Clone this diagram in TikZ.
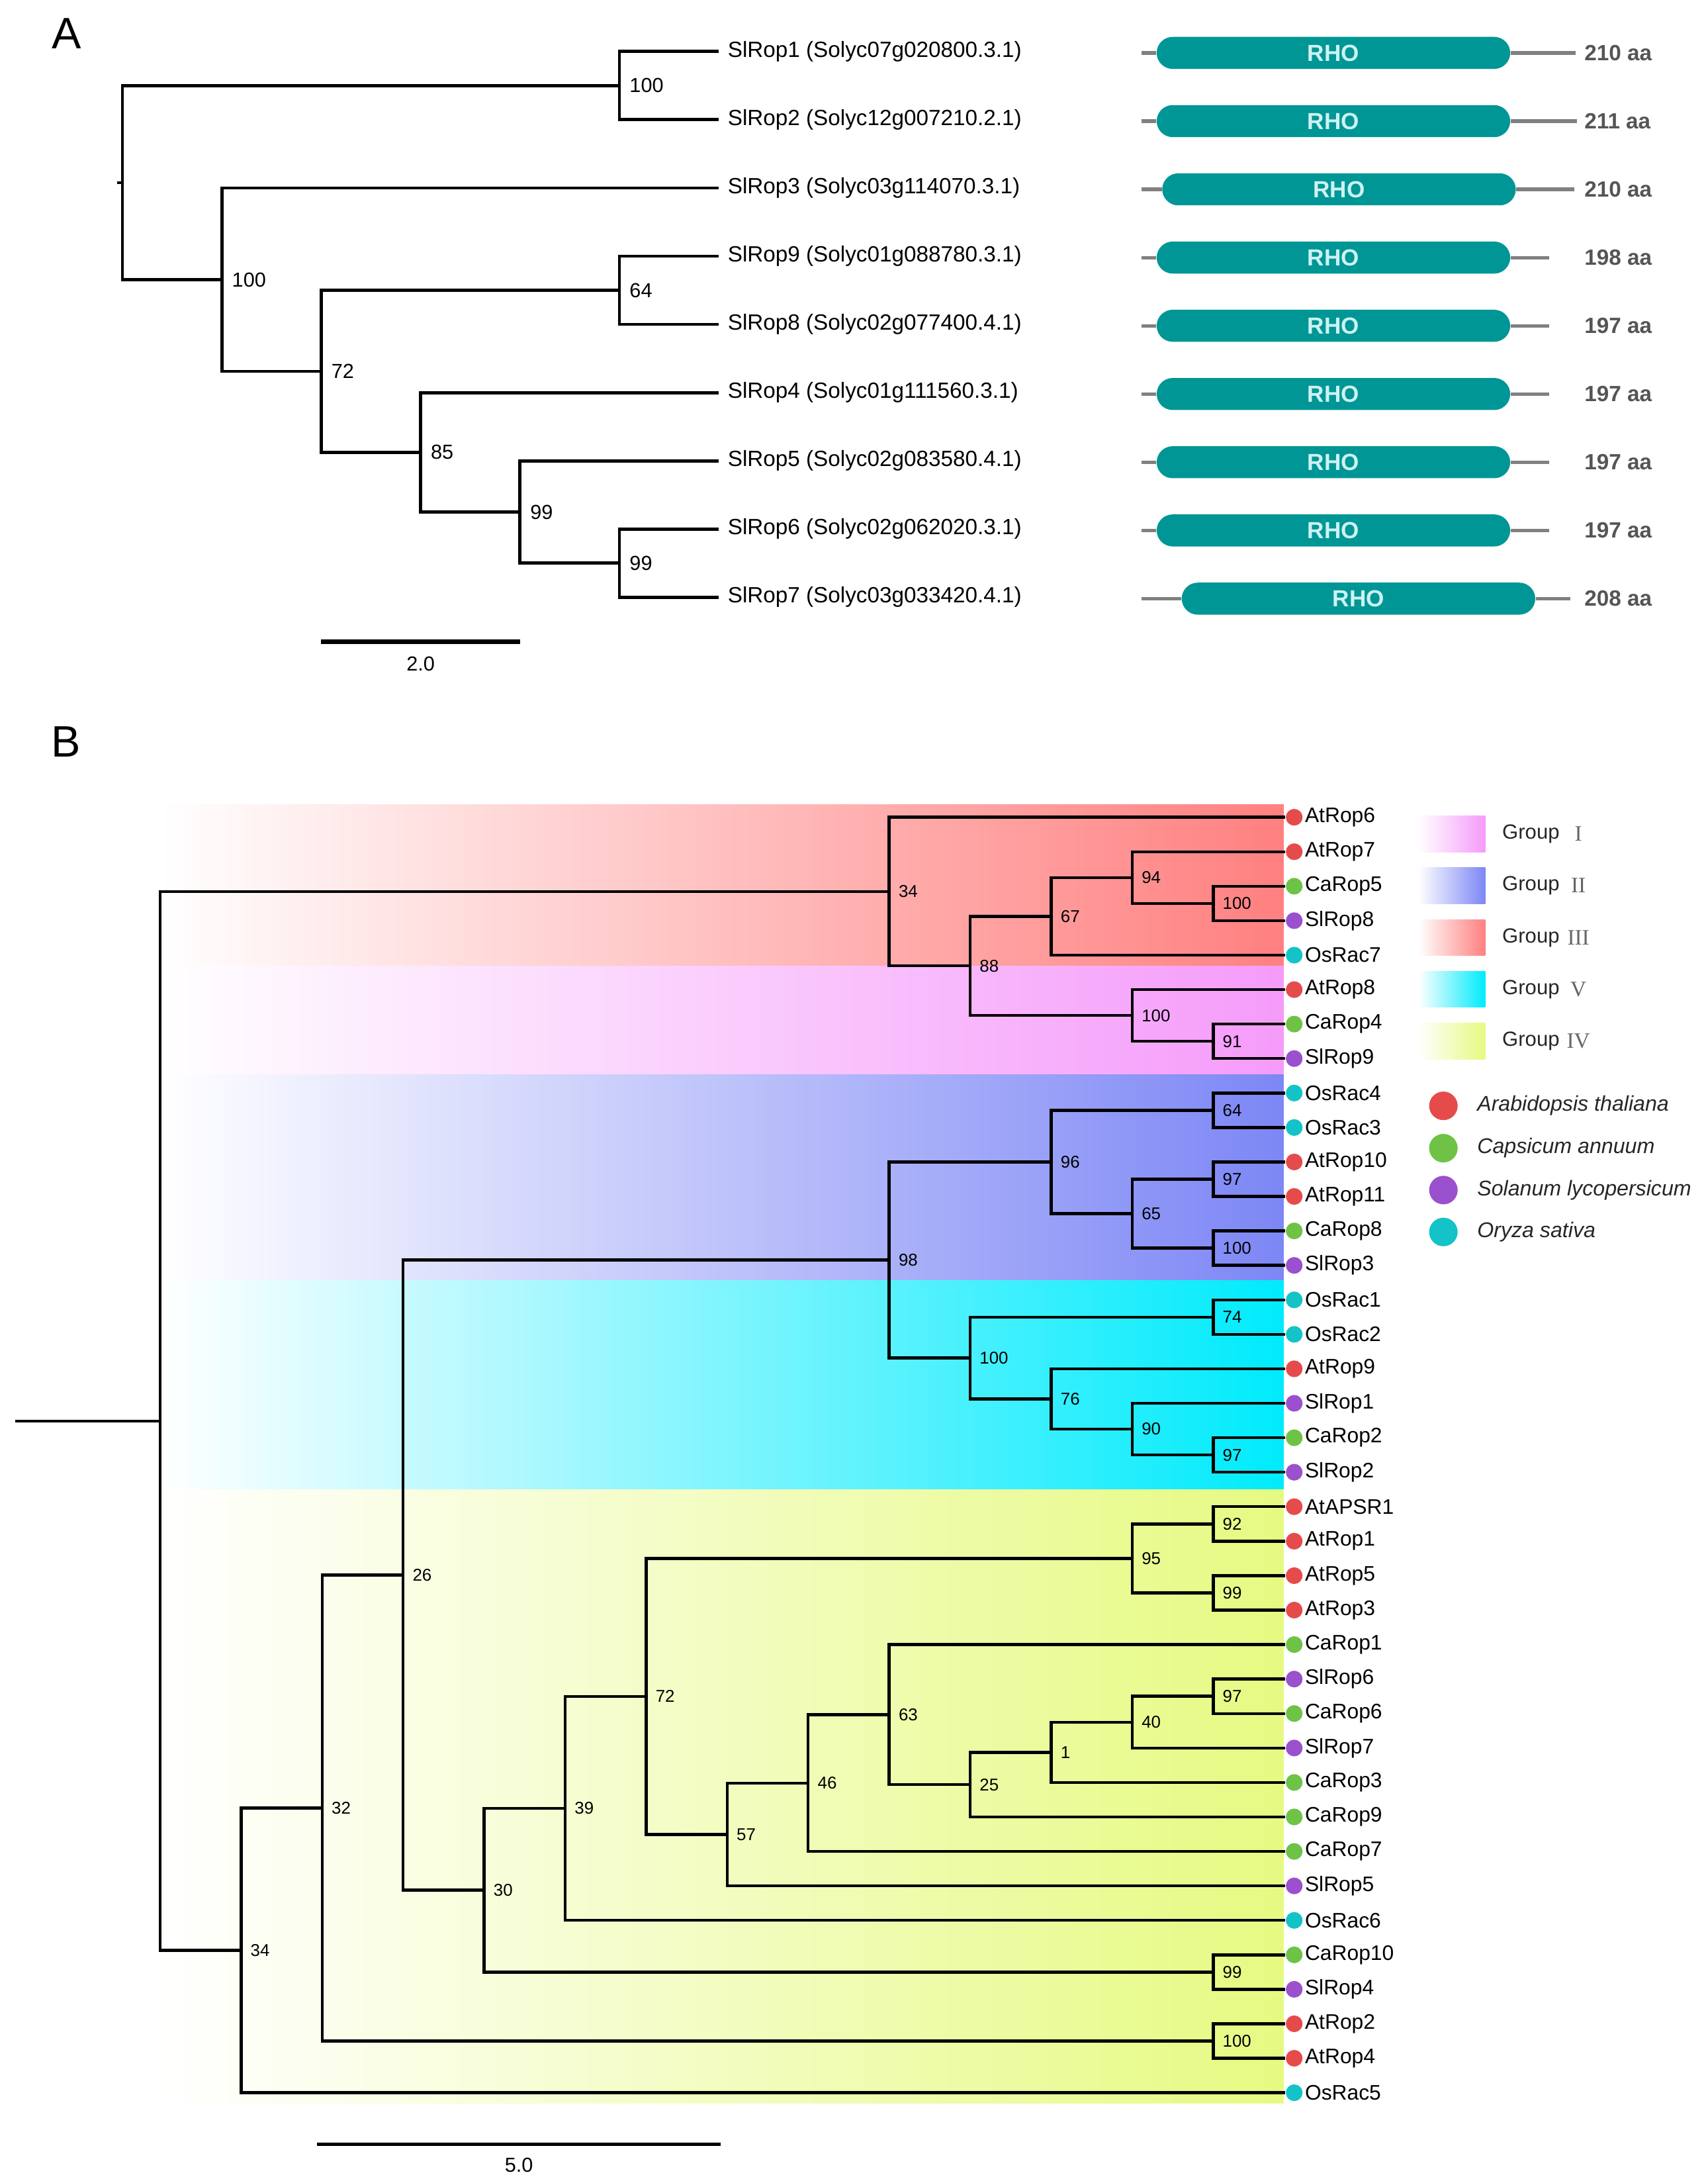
\documentclass[tikz,border=0pt]{standalone}
\usepackage{fontspec}
\setmainfont{Liberation Sans}
\newfontfamily\romanfont{Liberation Serif}
\usepackage{tikz}
\usetikzlibrary{positioning}

\definecolor{rhoteal}{RGB}{0,150,150}
\definecolor{rhotext}{RGB}{205,242,242}
\definecolor{stemgray}{RGB}{128,128,128}
\definecolor{aagray}{RGB}{85,85,85}
\definecolor{grpI}{RGB}{245,155,250}
\definecolor{grpII}{RGB}{125,135,245}
\definecolor{grpIII}{RGB}{255,128,128}
\definecolor{grpV}{RGB}{0,235,252}
\definecolor{grpIV}{RGB}{230,250,130}
\definecolor{spAt}{RGB}{230,75,75}
\definecolor{spCa}{RGB}{110,195,70}
\definecolor{spSl}{RGB}{155,80,205}
\definecolor{spOs}{RGB}{20,195,200}

\begin{document}
\begin{tikzpicture}[
x=0.2mm, y=-0.2mm,
panel/.style={font=\fontsize{18}{18}\selectfont, inner sep=0pt},
branchA/.style={line width=1.3pt, black},
branchB/.style={line width=1.2pt, black},
tipA/.style={anchor=west, inner sep=3.5pt, font=\fontsize{9}{10}\selectfont},
bootA/.style={font=\fontsize{8.3}{9}\selectfont, inner sep=0pt, label distance=1.4mm},
bootB/.style={font=\fontsize{7}{8}\selectfont, inner sep=0pt, label distance=1.3mm},
scaletxt/.style={font=\fontsize{8.3}{9}\selectfont},
rho/.style={rectangle, rounded corners=2.3mm, fill=rhoteal, text=rhotext, minimum width=50.8mm, minimum height=4.6mm, inner sep=0pt, font=\bfseries\fontsize{9.5}{10}\selectfont},
stem/.style={line width=1.4pt, stemgray},
aalen/.style={anchor=west, inner sep=0pt, text=aagray, font=\bfseries\fontsize{9}{10}\selectfont},
leaf/.style={circle, inner sep=0pt, minimum size=2.4mm},
leafname/.style={font=\fontsize{8.6}{10}\selectfont, inner sep=0.6pt, label distance=0pt},
keydot/.style={circle, inner sep=0pt, minimum size=4.1mm},
keytxt/.style={font=\itshape\fontsize{8.7}{10}\selectfont, text=black!85},
grouptxt/.style={anchor=west, inner sep=0pt, text=black!85, font=\fontsize{8.4}{10}\selectfont},
groupnum/.style={inner sep=0pt, text=black!60, font=\romanfont\fontsize{9}{10}\selectfont}]

\useasboundingbox (0,0) rectangle (1227,1568);

\node[panel] (lblA) at (48,24) {A};
\node[panel] (lblB) at (47.5,533) {B};

\begin{scope}[xshift=17.6mm, yshift=-7.4mm, x=14.28mm, y=-9.8mm]
\node[tipA] (sl1) at (6,0) {SlRop1 (Solyc07g020800.3.1)};
\node[tipA] (sl2) at (6,1) {SlRop2 (Solyc12g007210.2.1)};
\node[tipA] (sl3) at (6,2) {SlRop3 (Solyc03g114070.3.1)};
\node[tipA] (sl9) at (6,3) {SlRop9 (Solyc01g088780.3.1)};
\node[tipA] (sl8) at (6,4) {SlRop8 (Solyc02g077400.4.1)};
\node[tipA] (sl4) at (6,5) {SlRop4 (Solyc01g111560.3.1)};
\node[tipA] (sl5) at (6,6) {SlRop5 (Solyc02g083580.4.1)};
\node[tipA] (sl6) at (6,7) {SlRop6 (Solyc02g062020.3.1)};
\node[tipA] (sl7) at (6,8) {SlRop7 (Solyc03g033420.4.1)};

\coordinate (a0) at (0,1.922);
\coordinate (a0stem) at (-0.056,1.922);
\coordinate[label={[bootA]right:100}] (a12) at (5,0.5);
\coordinate[label={[bootA]right:100}] (a3) at (1,3.344);
\coordinate[label={[bootA]right:72}] (a4) at (2,4.688);
\coordinate[label={[bootA]right:64}] (a98) at (5,3.5);
\coordinate[label={[bootA]right:85}] (a5) at (3,5.875);
\coordinate[label={[bootA]right:99}] (a6) at (4,6.75);
\coordinate[label={[bootA]right:99}] (a67) at (5,7.5);

\draw[branchA] (a0stem) -- (a0);
\draw[branchA] (a0) |- (a12) (a0) |- (a3);
\draw[branchA] (a12) |- (sl1) (a12) |- (sl2);
\draw[branchA] (a3) |- (sl3) (a3) |- (a4);
\draw[branchA] (a4) |- (a98) (a4) |- (a5);
\draw[branchA] (a98) |- (sl9) (a98) |- (sl8);
\draw[branchA] (a5) |- (sl4) (a5) |- (a6);
\draw[branchA] (a6) |- (sl5) (a6) |- (a67);
\draw[branchA] (a67) |- (sl6) (a67) |- (sl7);

\coordinate (barA1) at (2,8.653);
\coordinate (barA2) at (4,8.653);
\draw[line width=1.8pt] (barA1) -- node[scaletxt, below=0.6mm] {2.0} (barA2);
\end{scope}

\foreach \r/\bx/\ex/\len in {0/958/1132/210, 1/958/1133/211, 2/962/1131/210,
  3/958/1113/198, 4/958/1113/197, 5/958/1113/197, 6/958/1113/197,
  7/958/1113/197, 8/976/1128/208} {
  \node[rho] (rho\r) at (\bx,{38+49*\r}) {RHO};
  \coordinate (rs\r) at (820,{38+49*\r});
  \coordinate (re\r) at (\ex,{38+49*\r});
  \draw[stem] (rs\r) -- (rho\r);
  \draw[stem] (rho\r) -- (re\r);
  \node[aalen] (aa\r) at (1138,{38+49*\r}) {\len\ aa};
}

\begin{scope}[xshift=23mm, yshift=-117.4mm, x=11.64mm, y=-4.952mm]
\shade[left color=white, right color=grpIII] (0,-0.37) rectangle (13.87,4.31);
\shade[left color=white, right color=grpI] (0,4.31) rectangle (13.87,7.47);
\shade[left color=white, right color=grpII] (0,7.47) rectangle (13.87,13.44);
\shade[left color=white, right color=grpV] (0,13.44) rectangle (13.87,19.51);
\shade[left color=white, right color=grpIV] (0,19.51) rectangle (13.87,37.31);

\foreach \r/\name/\sp in {0/AtRop6/spAt, 1/AtRop7/spAt, 2/CaRop5/spCa, 3/SlRop8/spSl,
  4/OsRac7/spOs, 5/AtRop8/spAt, 6/CaRop4/spCa, 7/SlRop9/spSl, 8/OsRac4/spOs,
  9/OsRac3/spOs, 10/AtRop10/spAt, 11/AtRop11/spAt, 12/CaRop8/spCa, 13/SlRop3/spSl,
  14/OsRac1/spOs, 15/OsRac2/spOs, 16/AtRop9/spAt, 17/SlRop1/spSl, 18/CaRop2/spCa,
  19/SlRop2/spSl, 20/AtAPSR1/spAt, 21/AtRop1/spAt, 22/AtRop5/spAt, 23/AtRop3/spAt,
  24/CaRop1/spCa, 25/SlRop6/spSl, 26/CaRop6/spCa, 27/SlRop7/spSl, 28/CaRop3/spCa,
  29/CaRop9/spCa, 30/CaRop7/spCa, 31/SlRop5/spSl, 32/OsRac6/spOs, 33/CaRop10/spCa,
  34/SlRop4/spSl, 35/AtRop2/spAt, 36/AtRop4/spAt, 37/OsRac5/spOs} {
  \node[leaf, fill=\sp, label={[leafname]right:\name}] (\name) at (14,\r) {};
}

\coordinate (rootB) at (0,17.514);
\coordinate (rootBstem) at (-1.787,17.514);
\coordinate[label={[bootB]right:34}] (b34t) at (9,2.156);
\coordinate[label={[bootB]right:88}] (b88) at (10,4.3125);
\coordinate[label={[bootB]right:67}] (b67) at (11,2.875);
\coordinate[label={[bootB]right:94}] (b94) at (12,1.75);
\coordinate[label={[bootB]right:100}] (b100b) at (13,2.5);
\coordinate[label={[bootB]right:100}] (b100a) at (12,5.75);
\coordinate[label={[bootB]right:91}] (b91) at (13,6.5);
\coordinate[label={[bootB]right:98}] (b98) at (9,12.844);
\coordinate[label={[bootB]right:96}] (b96) at (11,10);
\coordinate[label={[bootB]right:64}] (b64) at (13,8.5);
\coordinate[label={[bootB]right:65}] (b65) at (12,11.5);
\coordinate[label={[bootB]right:97}] (b97a) at (13,10.5);
\coordinate[label={[bootB]right:100}] (b100c) at (13,12.5);
\coordinate[label={[bootB]right:100}] (b100v) at (10,15.6875);
\coordinate[label={[bootB]right:74}] (b74) at (13,14.5);
\coordinate[label={[bootB]right:76}] (b76) at (11,16.875);
\coordinate[label={[bootB]right:90}] (b90) at (12,17.75);
\coordinate[label={[bootB]right:97}] (b97b) at (13,18.5);
\coordinate[label={[bootB]right:34}] (b34l) at (1,32.871);
\coordinate[label={[bootB]right:32}] (b32) at (2,28.743);
\coordinate[label={[bootB]right:26}] (b26) at (3,21.985);
\coordinate[label={[bootB]right:30}] (b30) at (4,31.126);
\coordinate[label={[bootB]right:39}] (b39) at (5,28.752);
\coordinate[label={[bootB]right:72}] (b72) at (6,25.504);
\coordinate[label={[bootB]right:95}] (b95) at (12,21.5);
\coordinate[label={[bootB]right:92}] (b92) at (13,20.5);
\coordinate[label={[bootB]right:99}] (b99a) at (13,22.5);
\coordinate[label={[bootB]right:57}] (b57) at (7,29.508);
\coordinate[label={[bootB]right:46}] (b46) at (8,28.016);
\coordinate[label={[bootB]right:63}] (b63) at (9,26.031);
\coordinate[label={[bootB]right:25}] (b25) at (10,28.063);
\coordinate[label={[bootB]right:1}] (b1) at (11,27.125);
\coordinate[label={[bootB]right:40}] (b40) at (12,26.25);
\coordinate[label={[bootB]right:97}] (b97c) at (13,25.5);
\coordinate[label={[bootB]right:99}] (b99b) at (13,33.5);
\coordinate[label={[bootB]right:100}] (b100e) at (13,35.5);

\draw[branchB] (rootBstem) -- (rootB);
\draw[branchB] (rootB) |- (b34t) (rootB) |- (b34l);
\draw[branchB] (b34t) |- (AtRop6) (b34t) |- (b88);
\draw[branchB] (b88) |- (b67) (b88) |- (b100a);
\draw[branchB] (b67) |- (b94) (b67) |- (OsRac7);
\draw[branchB] (b94) |- (AtRop7) (b94) |- (b100b);
\draw[branchB] (b100b) |- (CaRop5) (b100b) |- (SlRop8);
\draw[branchB] (b100a) |- (AtRop8) (b100a) |- (b91);
\draw[branchB] (b91) |- (CaRop4) (b91) |- (SlRop9);
\draw[branchB] (b34l) |- (b32) (b34l) |- (OsRac5);
\draw[branchB] (b32) |- (b26) (b32) |- (b100e);
\draw[branchB] (b100e) |- (AtRop2) (b100e) |- (AtRop4);
\draw[branchB] (b26) |- (b98) (b26) |- (b30);
\draw[branchB] (b98) |- (b96) (b98) |- (b100v);
\draw[branchB] (b96) |- (b64) (b96) |- (b65);
\draw[branchB] (b64) |- (OsRac4) (b64) |- (OsRac3);
\draw[branchB] (b65) |- (b97a) (b65) |- (b100c);
\draw[branchB] (b97a) |- (AtRop10) (b97a) |- (AtRop11);
\draw[branchB] (b100c) |- (CaRop8) (b100c) |- (SlRop3);
\draw[branchB] (b100v) |- (b74) (b100v) |- (b76);
\draw[branchB] (b74) |- (OsRac1) (b74) |- (OsRac2);
\draw[branchB] (b76) |- (AtRop9) (b76) |- (b90);
\draw[branchB] (b90) |- (SlRop1) (b90) |- (b97b);
\draw[branchB] (b97b) |- (CaRop2) (b97b) |- (SlRop2);
\draw[branchB] (b30) |- (b39) (b30) |- (b99b);
\draw[branchB] (b99b) |- (CaRop10) (b99b) |- (SlRop4);
\draw[branchB] (b39) |- (b72) (b39) |- (OsRac6);
\draw[branchB] (b72) |- (b95) (b72) |- (b57);
\draw[branchB] (b95) |- (b92) (b95) |- (b99a);
\draw[branchB] (b92) |- (AtAPSR1) (b92) |- (AtRop1);
\draw[branchB] (b99a) |- (AtRop5) (b99a) |- (AtRop3);
\draw[branchB] (b57) |- (b46) (b57) |- (SlRop5);
\draw[branchB] (b46) |- (b63) (b46) |- (CaRop7);
\draw[branchB] (b63) |- (CaRop1) (b63) |- (b25);
\draw[branchB] (b25) |- (b1) (b25) |- (CaRop9);
\draw[branchB] (b1) |- (b40) (b1) |- (CaRop3);
\draw[branchB] (b40) |- (b97c) (b40) |- (SlRop7);
\draw[branchB] (b97c) |- (SlRop6) (b97c) |- (CaRop6);

\coordinate (barB1) at (1.94,38.49);
\coordinate (barB2) at (6.92,38.49);
\draw[line width=1.4pt] (barB1) -- node[scaletxt, below=0.6mm] {5.0} (barB2);
\end{scope}

\foreach \y/\c/\g in {599/grpI/I, 636/grpII/II, 673.5/grpIII/III, 710.6/grpV/V, 748/grpIV/IV} {
  \shade[left color=white, right color=\c] (1019,{\y-13}) rectangle (1067,{\y+13});
  \node[grouptxt] (g\g) at (1079,\y) {Group};
  \node[groupnum] (n\g) at (1134,\y) {\g};
}

\foreach \y/\c/\s in {794.3/spAt/Arabidopsis thaliana, 824.7/spCa/Capsicum annuum,
  854.8/spSl/Solanum lycopersicum, 884.9/spOs/Oryza sativa} {
  \node[keydot, fill=\c] (k\c) at (1037,\y) {};
  \node[keytxt, right=1.5mm of k\c] (t\c) {\s};
}
\end{tikzpicture}
\end{document}
